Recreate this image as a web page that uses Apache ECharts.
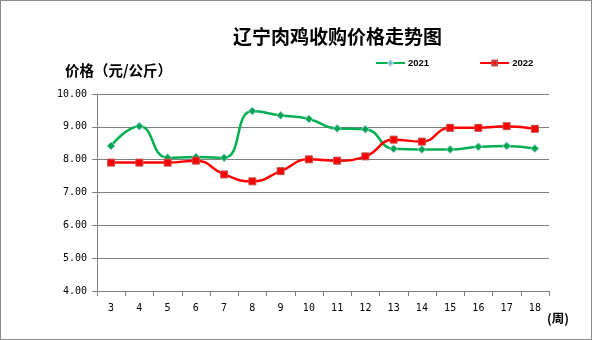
<!DOCTYPE html>
<html>
<head>
<meta charset="utf-8">
<script src="https://cdn.jsdelivr.net/npm/echarts@6/dist/echarts.min.js"></script>
<style>
  html, body { margin: 0; padding: 0; background: #fff; }
  #chart { width: 592px; height: 340px; box-sizing: border-box; border: 1px solid #8c8c8c; }
</style>
</head>
<body>
<div id="chart"></div>
<script>
// Weekly broiler purchase prices in Liaoning (yuan per kg)
const weeks = ['3','4','5','6','7','8','9','10','11','12','13','14','15','16','17','18'];
const price2021 = [8.42, 9.02, 8.06, 8.08, 8.06, 9.48, 9.35, 9.24, 8.95, 8.93, 8.33, 8.31, 8.31, 8.39, 8.42, 8.34];
const price2022 = [7.91, 7.91, 7.91, 7.97, 7.55, 7.34, 7.65, 8.01, 7.97, 8.10, 8.61, 8.55, 8.97, 8.97, 9.02, 8.94];
const yTicks = { min: 4, max: 10, interval: 1 };

const cjk = '"Noto Sans CJK SC", sans-serif';
const mono = '"DejaVu Sans Mono", monospace';

const chart = echarts.init(document.getElementById('chart'), null, { renderer: 'canvas' });
chart.setOption({
  animation: false,
  backgroundColor: '#ffffff',
  title: {
    text: '辽宁肉鸡收购价格走势图',
    left: 227, top: 21,
    textStyle: { fontFamily: cjk, fontSize: 19, fontWeight: 'bold', color: '#000' }
  },
  legend: {
    left: 374, top: 57, padding: 0,
    itemWidth: 29, itemHeight: 6, itemGap: 50,
    textStyle: { fontFamily: '"Liberation Sans", sans-serif', fontSize: 9.5, fontWeight: 'bold', color: '#000', padding: [0, 0, 0, -2] },
    data: ['2021', '2022']
  },
  graphic: [
    { type: 'text', left: 64, top: 62,
      style: { text: '价格（元/公斤）', font: 'bold 14.5px "Noto Sans CJK SC"', fill: '#000' } },
    { type: 'text', left: 546, top: 311,
      style: { text: '(周)', font: 'bold 12.5px "Noto Sans CJK SC"', fill: '#000' } }
  ],
  grid: { left: 96, right: 42, top: 93, bottom: 48 },
  xAxis: {
    type: 'category',
    data: weeks,
    boundaryGap: true,
    axisLine: { lineStyle: { color: '#808080', width: 1 } },
    axisTick: { show: true, alignWithLabel: false, length: 5, lineStyle: { color: '#808080' } },
    axisLabel: { fontFamily: mono, fontSize: 10, color: '#000', margin: 12 }
  },
  yAxis: {
    type: 'value',
    min: yTicks.min, max: yTicks.max, interval: yTicks.interval,
    axisLine: { show: true, lineStyle: { color: '#808080', width: 1 } },
    axisTick: { show: true, length: 5, lineStyle: { color: '#808080' } },
    axisLabel: { fontFamily: mono, fontSize: 10, color: '#000', margin: 10,
      formatter: v => v.toFixed(2) },
    splitLine: { lineStyle: { color: '#808080', width: 1 } }
  },
  series: [
    {
      name: '2021', type: 'line', data: price2021, smooth: 0.5,
      symbol: 'diamond', symbolSize: 8,
      lineStyle: { color: '#00b050', width: 2.5 },
      itemStyle: { color: '#00a84a', borderColor: '#a9c9e8', borderWidth: 1 }
    },
    {
      name: '2022', type: 'line', data: price2022, smooth: 0.5,
      symbol: 'rect', symbolSize: 7,
      lineStyle: { color: '#ff0000', width: 2.5 },
      itemStyle: { color: '#ff0000', borderColor: '#c0504d', borderWidth: 1 }
    }
  ]
});
</script>
</body>
</html>
